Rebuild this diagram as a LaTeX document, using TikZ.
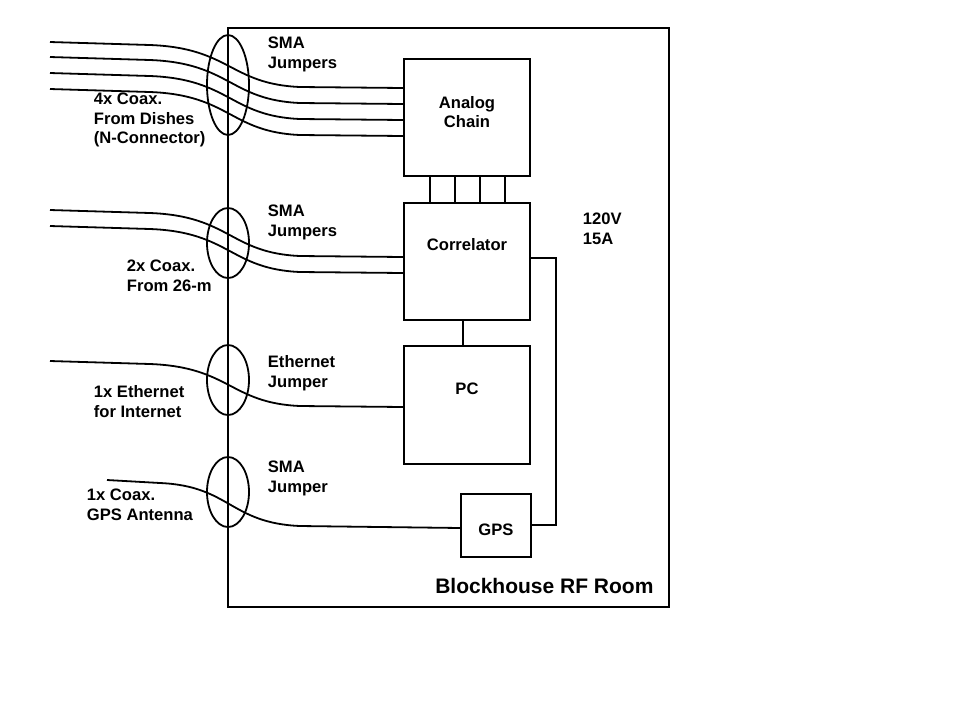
\documentclass[tikz,border=0pt]{standalone}
\usepackage{fontspec}
\setmainfont{Liberation Sans}
\usetikzlibrary{positioning}

\begin{document}
\begin{tikzpicture}[x=0.5pt,y=-0.5pt,line width=0.9pt,
    lbl/.style={font=\fontsize{8.3}{9.8}\selectfont\bfseries,align=left,anchor=north west,inner sep=0pt},
    box/.style={draw,minimum width=63pt,font=\fontsize{8.3}{9.8}\selectfont\bfseries,align=center}]
    \useasboundingbox (0,0) rectangle (960,720);

    % room
    \draw (228,28) rectangle (669,607);
    \node[font=\fontsize{10.5}{12}\selectfont\bfseries,anchor=south east] (room) at (661,601) {Blockhouse RF Room};

    % boxes
    \draw (404,59) rectangle (530,176);
    \node[box,draw=none] (analog) at (467,112) {Analog\\Chain};
    \draw (404,203) rectangle (530,320);
    \node[box,draw=none] (corr) at (467,245) {Correlator};
    \draw (404,346) rectangle (530,464);
    \node[box,draw=none] (pc) at (467,389) {PC};
    \draw (461,494) rectangle (531,557);
    \node[box,draw=none] (gps) at (496,530) {GPS};

    % links between boxes
    \foreach \x in {430,455,480,505}
        \draw (\x,176) -- (\x,203);
    \draw (455,176) -- (505,176);
    \draw (463,320) -- (463,346);
    \draw (530,258) -- (556,258) -- (556,525) -- (531,525);
    \node[lbl] (pwr) at (582,212) {120V\\15A};

    % cables
    \foreach \a/\b in {42/88,57/104,73/120,89/136}
        \draw (50,\a) -- (150,\a+3) .. controls (230,\a+6) and (230,\b-4) .. (300,\b-1) -- (404,\b);
    \foreach \a/\b in {210/257,226/273}
        \draw (50,\a) -- (150,\a+3) .. controls (230,\a+6) and (230,\b-4) .. (300,\b-1) -- (404,\b);
    \draw (50,361) -- (150,364) .. controls (230,367) and (230,403) .. (300,406) -- (404,407);
    \draw (107,480) -- (160,483) .. controls (230,486) and (230,523) .. (300,526) -- (461,528);

    % bundles
    \draw (228,85) ellipse (21 and 50);
    \draw (228,243) ellipse (21 and 35);
    \draw (228,380) ellipse (21 and 35);
    \draw (228,492) ellipse (21 and 35);

    % labels
    \node[lbl] (sma1) at (267,36) {SMA\\Jumpers};
    \node[lbl] (dish) at (93,92) {4x Coax.\\From Dishes\\(N-Connector)};
    \node[lbl] (sma2) at (267,204) {SMA\\Jumpers};
    \node[lbl] (dm) at (126,259) {2x Coax.\\From 26-m};
    \node[lbl] (eth) at (267,355) {Ethernet\\Jumper};
    \node[lbl] (inet) at (93,385) {1x Ethernet\\for Internet};
    \node[lbl] (sma3) at (267,460) {SMA\\Jumper};
    \node[lbl] (ant) at (86,488) {1x Coax.\\GPS Antenna};
\end{tikzpicture}
\end{document}
